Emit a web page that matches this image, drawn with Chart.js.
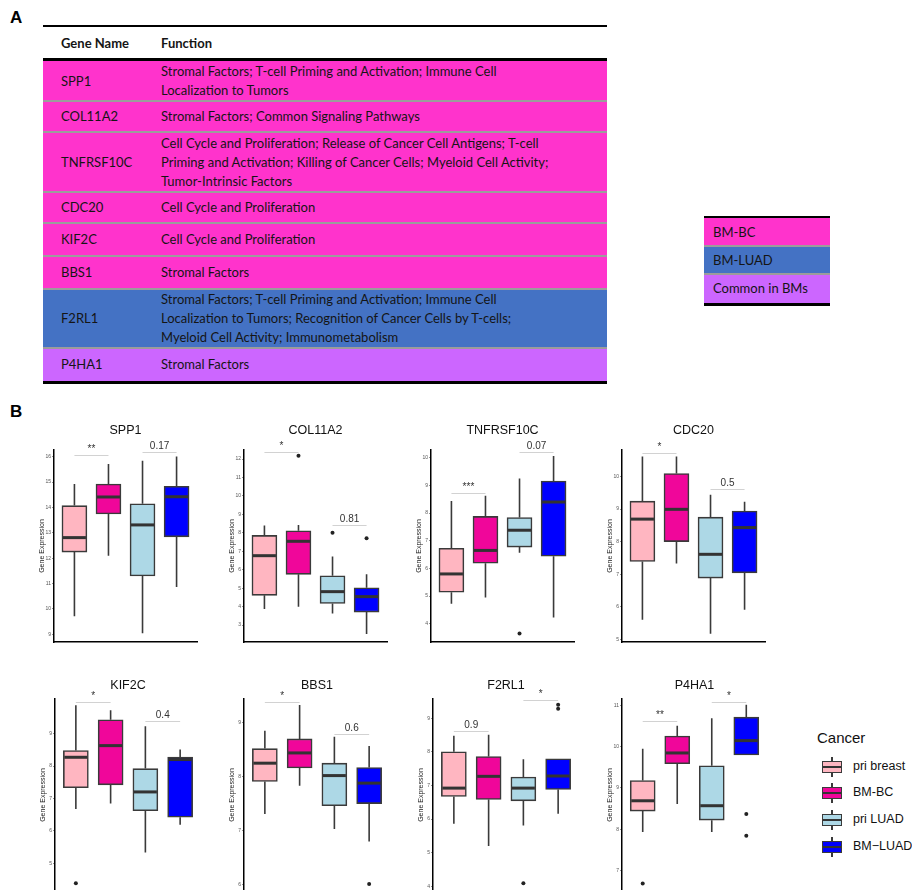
<!DOCTYPE html>
<html>
<head>
<meta charset="utf-8">
<title>Brain metastasis gene signatures</title>
<script src="https://cdn.jsdelivr.net/npm/chart.js@4.4.1/dist/chart.umd.min.js"></script>
<style>
  html, body { margin: 0; padding: 0; background: #fff; }
  body { position: relative; width: 912px; height: 890px; overflow: hidden; font-family: 'Liberation Sans', Arial, sans-serif; }
  .tag { position: absolute; font-weight: bold; font-size: 17px; color: #000; line-height: 20px; }
  .cell { position: absolute; font-family: Lato, 'Open Sans', sans-serif; font-size: 13px; color: #151515; line-height: 19px; white-space: nowrap; }
  .band { position: absolute; box-sizing: border-box; }
  .rule { position: absolute; background: #000; }
  .sep { position: absolute; background: #9c9c9c; }
  canvas { position: absolute; }
  .lg-title { position: absolute; font-size: 15px; color: #111; }
  .lg-label { position: absolute; font-size: 12.5px; color: #111; }
  .lg-whisker { position: absolute; width: 1.5px; background: #3a3a3a; }
  .lg-box { position: absolute; box-sizing: border-box; border: 1.5px solid #3a3a3a; }
  .lg-median { position: absolute; height: 2px; background: #333; }
</style>
</head>
<body>
<div class="tag" style="left:10px;top:8px">A</div>
<div class="tag" style="left:10px;top:402px">B</div>
<script>
// ---------- table content ----------
const genes = ['SPP1', 'COL11A2', 'TNFRSF10C', 'CDC20', 'KIF2C', 'BBS1', 'F2RL1', 'P4HA1'];
const geneFunctions = [
  ['Stromal Factors; T-cell Priming and Activation; Immune Cell', 'Localization to Tumors'],
  ['Stromal Factors; Common Signaling Pathways'],
  ['Cell Cycle and Proliferation; Release of Cancer Cell Antigens; T-cell', 'Priming and Activation; Killing of Cancer Cells; Myeloid Cell Activity;', 'Tumor-Intrinsic Factors'],
  ['Cell Cycle and Proliferation'],
  ['Cell Cycle and Proliferation'],
  ['Stromal Factors'],
  ['Stromal Factors; T-cell Priming and Activation; Immune Cell', 'Localization to Tumors; Recognition of Cancer Cells by T-cells;', 'Myeloid Cell Activity; Immunometabolism'],
  ['Stromal Factors']
];
const geneGroups = ['BM-BC', 'BM-BC', 'BM-BC', 'BM-BC', 'BM-BC', 'BM-BC', 'BM-LUAD', 'Common in BMs'];
const groupNames = ['BM-BC', 'BM-LUAD', 'Common in BMs'];

// ---------- box plot values ----------
const cancerTypes = ['pri breast', 'BM-BC', 'pri LUAD', 'BM\u2212LUAD'];

// each entry: [lower whisker, Q1, median, Q3, upper whisker] per cancer type
const spp1Box = [[9.71, 12.24, 12.81, 14.07, 14.92], [12.10, 13.74, 14.41, 14.92, 15.71], [9.04, 11.30, 13.31, 14.14, 15.84], [10.87, 12.84, 14.42, 14.83, 16.00]];
const col11a2Box = [[3.87, 4.61, 6.76, 7.86, 8.39], [3.99, 5.75, 7.54, 8.11, 8.42], [3.63, 4.17, 4.81, 5.67, 6.72], [2.51, 3.70, 4.54, 5.02, 5.75]];
const tnfrsf10cBox = [[4.72, 5.14, 5.80, 6.73, 8.44], [4.95, 6.19, 6.65, 7.88, 8.63], [6.57, 6.77, 7.38, 7.84, 9.25], [4.23, 6.44, 8.40, 9.16, 10.06]];
const cdc20Box = [[5.60, 7.39, 8.69, 9.24, 10.61], [7.33, 8.00, 8.99, 10.09, 10.61], [5.17, 6.88, 7.61, 8.75, 9.44], [5.91, 7.04, 8.43, 8.94, 9.22]];
const kif2cBox = [[6.67, 7.33, 8.27, 8.48, 9.88], [6.84, 7.42, 8.63, 9.43, 9.72], [5.33, 6.62, 7.20, 7.92, 9.23], [6.19, 6.42, 8.20, 8.28, 8.51]];
const bbs1Box = [[7.31, 7.91, 8.25, 8.52, 8.85], [7.83, 8.16, 8.44, 8.70, 9.33], [7.03, 7.46, 8.02, 8.25, 8.74], [6.80, 7.50, 7.88, 8.17, 8.57]];
const f2rl1Box = [[5.86, 6.67, 6.92, 8.00, 8.48], [5.20, 6.58, 7.27, 7.86, 8.51], [5.81, 6.54, 6.92, 7.25, 7.78], [6.16, 6.88, 7.28, 7.79, 7.79]];
const p4ha1Box = [[7.93, 8.44, 8.69, 9.18, 9.95], [8.61, 9.59, 9.85, 10.26, 10.51], [7.93, 8.22, 8.57, 9.54, 10.69], [9.80, 9.80, 10.15, 10.72, 11.02]];

// outlying samples per cancer type
const spp1Outliers = [[], [], [], []];
const col11a2Outliers = [[], [12.18], [8.00], [7.70]];
const tnfrsf10cOutliers = [[], [], [3.65], []];
const cdc20Outliers = [[], [], [], []];
const kif2cOutliers = [[4.38], [], [], []];
const bbs1Outliers = [[], [], [], [6.01]];
const f2rl1Outliers = [[], [], [4.09], [9.40, 9.28]];
const p4ha1Outliers = [[6.68], [], [], [8.37, 7.84]];

// pairwise comparisons: [label, first group, second group, bracket level]
const spp1Tests = [['**', 1, 2, 16.05], ['0.17', 3, 4, 16.18]];
const col11a2Tests = [['*', 1, 2, 12.38], ['0.81', 3, 4, 8.40]];
const tnfrsf10cTests = [['***', 1, 2, 8.71], ['0.07', 3, 4, 10.20]];
const cdc20Tests = [['*', 1, 2, 10.73], ['0.5', 3, 4, 9.60]];
const kif2cTests = [['*', 1, 2, 9.99], ['0.4', 3, 4, 9.40]];
const bbs1Tests = [['*', 1, 2, 9.38], ['0.6', 3, 4, 8.80]];
const f2rl1Tests = [['0.9', 1, 2, 8.62], ['*', 3, 4, 9.54]];
const p4ha1Tests = [['**', 1, 2, 10.63], ['*', 3, 4, 11.09]];

// y tick labels and axis limits
const spp1Ticks = [9, 10, 11, 12, 13, 14, 15, 16];
const col11a2Ticks = [3, 4, 5, 6, 7, 8, 9, 10, 11, 12];
const tnfrsf10cTicks = [4, 5, 6, 7, 8, 9, 10];
const cdc20Ticks = [5, 6, 7, 8, 9, 10];
const kif2cTicks = [5, 6, 7, 8, 9];
const bbs1Ticks = [6, 7, 8, 9];
const f2rl1Ticks = [4, 5, 6, 7, 8, 9];
const p4ha1Ticks = [7, 8, 9, 10, 11];
const spp1Range = [8.70, 16.26];
const col11a2Range = [2.08, 12.49];
const tnfrsf10cRange = [3.34, 10.28];
const cdc20Range = [4.92, 10.81];
const kif2cRange = [4.14, 10.07];
const bbs1Range = [5.88, 9.44];
const f2rl1Range = [3.86, 9.57];
const p4ha1Range = [6.50, 11.16];

// ---------- styling ----------
const groupColors = { 'BM-BC': '#FF33CC', 'BM-LUAD': '#4472C4', 'Common in BMs': '#CC66FF' };
const cancerColors = ['#FFB6C1', '#F0069A', '#ADD8E6', '#0000FF'];
const inkDark = '#3a3a3a';

// ---------- table ----------
function put(cls, styles, html) {
  const d = document.createElement('div');
  d.className = cls;
  Object.assign(d.style, styles);
  if (html !== undefined) d.innerHTML = html;
  document.body.appendChild(d);
  return d;
}

const tableLeft = 43, tableWidth = 564, geneX = 61, funcX = 161;
const rowEdges = [61, 101, 132, 192, 223, 256, 289, 348, 381];

put('rule', { left: tableLeft + 'px', top: '25px', width: tableWidth + 'px', height: '2px' });
put('cell', { left: geneX + 'px', top: '34px', fontWeight: 'bold' }, 'Gene Name');
put('cell', { left: funcX + 'px', top: '34px', fontWeight: 'bold' }, 'Function');

genes.forEach((g, i) => {
  const top = rowEdges[i], h = rowEdges[i + 1] - top;
  put('band', { left: tableLeft + 'px', top: top + 'px', width: tableWidth + 'px', height: h + 'px', background: groupColors[geneGroups[i]] });
  if (i > 0) put('sep', { left: tableLeft + 'px', top: (top - 1) + 'px', width: tableWidth + 'px', height: '1.5px' });
  const lines = geneFunctions[i];
  const textH = lines.length * 19;
  put('cell', { left: geneX + 'px', top: (top + (h - 19) / 2) + 'px' }, g);
  put('cell', { left: funcX + 'px', top: (top + (h - textH) / 2) + 'px' }, lines.join('<br>'));
});
put('rule', { left: tableLeft + 'px', top: '58px', width: tableWidth + 'px', height: '3px' });
put('rule', { left: tableLeft + 'px', top: '381px', width: tableWidth + 'px', height: '3px' });

// colour key for the table
const keyLeft = 704, keyWidth = 126, keyEdges = [218, 246, 274, 303];
groupNames.forEach((name, i) => {
  const top = keyEdges[i], h = keyEdges[i + 1] - top;
  put('band', { left: keyLeft + 'px', top: top + 'px', width: keyWidth + 'px', height: h + 'px', background: groupColors[name] });
  if (i > 0) put('sep', { left: keyLeft + 'px', top: (top - 1) + 'px', width: keyWidth + 'px', height: '1.5px' });
  put('cell', { left: (keyLeft + 9) + 'px', top: (top + (h - 19) / 2) + 'px' }, name);
});
put('rule', { left: keyLeft + 'px', top: '216px', width: keyWidth + 'px', height: '2px' });
put('rule', { left: keyLeft + 'px', top: '303px', width: keyWidth + 'px', height: '3px' });

// ---------- box plot panels ----------
const panels = [
  { gene: 'SPP1', box: spp1Box, out: spp1Outliers, tests: spp1Tests, ticks: spp1Ticks, range: spp1Range },
  { gene: 'COL11A2', box: col11a2Box, out: col11a2Outliers, tests: col11a2Tests, ticks: col11a2Ticks, range: col11a2Range },
  { gene: 'TNFRSF10C', box: tnfrsf10cBox, out: tnfrsf10cOutliers, tests: tnfrsf10cTests, ticks: tnfrsf10cTicks, range: tnfrsf10cRange },
  { gene: 'CDC20', box: cdc20Box, out: cdc20Outliers, tests: cdc20Tests, ticks: cdc20Ticks, range: cdc20Range },
  { gene: 'KIF2C', box: kif2cBox, out: kif2cOutliers, tests: kif2cTests, ticks: kif2cTicks, range: kif2cRange },
  { gene: 'BBS1', box: bbs1Box, out: bbs1Outliers, tests: bbs1Tests, ticks: bbs1Ticks, range: bbs1Range },
  { gene: 'F2RL1', box: f2rl1Box, out: f2rl1Outliers, tests: f2rl1Tests, ticks: f2rl1Ticks, range: f2rl1Range },
  { gene: 'P4HA1', box: p4ha1Box, out: p4ha1Outliers, tests: p4ha1Tests, ticks: p4ha1Ticks, range: p4ha1Range }
];

// plot-area frames (page pixels) for the 2 x 4 grid
const frames = [
  { left: 54, top: 450, w: 143, h: 192, titleGap: 19 },
  { left: 244, top: 450, w: 143, h: 192, titleGap: 19 },
  { left: 431, top: 450, w: 143, h: 192, titleGap: 19 },
  { left: 622, top: 450, w: 143, h: 192, titleGap: 19 },
  { left: 55, top: 699, w: 146, h: 192, titleGap: 13 },
  { left: 244, top: 699, w: 146, h: 192, titleGap: 13 },
  { left: 433, top: 699, w: 146, h: 192, titleGap: 13 },
  { left: 622, top: 699, w: 145, h: 192, titleGap: 13 }
];

const AXIS_W = 18, PAD_T = 45, PAD_B = 4, PAD_R = 4, BOX_W = 25;

function boxParts(p, f) {
  return {
    id: 'boxParts',
    beforeDatasetsDraw(chart) {
      const { ctx, scales: { x, y } } = chart;
      ctx.save();
      ctx.strokeStyle = inkDark;
      ctx.lineWidth = 1.6;
      p.box.forEach((s, i) => {
        const px = x.getPixelForValue(i + 1);
        ctx.beginPath();
        ctx.moveTo(px, y.getPixelForValue(s[4]));
        ctx.lineTo(px, y.getPixelForValue(s[3]));
        ctx.moveTo(px, y.getPixelForValue(s[1]));
        ctx.lineTo(px, y.getPixelForValue(s[0]));
        ctx.stroke();
      });
      ctx.restore();
    },
    afterDatasetsDraw(chart) {
      const { ctx, scales: { y } } = chart;
      const bars = chart.getDatasetMeta(0).data;
      ctx.save();
      ctx.strokeStyle = '#333';
      ctx.lineWidth = 3;
      bars.forEach((bar, i) => {
        const py = y.getPixelForValue(p.box[i][2]);
        ctx.beginPath();
        ctx.moveTo(bar.x - bar.width / 2 + 1, py);
        ctx.lineTo(bar.x + bar.width / 2 - 1, py);
        ctx.stroke();
      });
      ctx.restore();
    },
    afterDraw(chart) {
      const { ctx, chartArea, scales: { x, y } } = chart;
      ctx.save();
      // comparison brackets
      p.tests.forEach(([label, a, b, level]) => {
        const x1 = x.getPixelForValue(a), x2 = x.getPixelForValue(b);
        const py = Math.round(y.getPixelForValue(level)) + 0.5;
        ctx.strokeStyle = '#d2d2d2';
        ctx.lineWidth = 1;
        ctx.beginPath();
        ctx.moveTo(x1, py);
        ctx.lineTo(x2, py);
        ctx.stroke();
        ctx.fillStyle = '#333';
        ctx.font = '10px "Liberation Sans", Arial, sans-serif';
        ctx.textAlign = 'center';
        ctx.textBaseline = 'bottom';
        ctx.fillText(label, (x1 + x2) / 2, py - 1);
      });
      // panel title
      ctx.fillStyle = '#111';
      ctx.font = '12.5px "Liberation Sans", Arial, sans-serif';
      ctx.textAlign = 'center';
      ctx.textBaseline = 'middle';
      ctx.fillText(p.gene, (chartArea.left + chartArea.right) / 2, chartArea.top - f.titleGap);
      ctx.restore();
    }
  };
}

function drawPanel(p, f) {
  const cv = document.createElement('canvas');
  cv.width = AXIS_W + f.w + PAD_R;
  cv.height = PAD_T + f.h + PAD_B;
  cv.style.left = (f.left - AXIS_W) + 'px';
  cv.style.top = (f.top - PAD_T) + 'px';
  document.body.appendChild(cv);

  new Chart(cv, {
    type: 'bar',
    data: {
      datasets: [
        {
          type: 'bar',
          label: p.gene,
          data: p.box.map((s, i) => ({ x: i + 1, y: [s[1], s[3]] })),
          backgroundColor: cancerColors,
          borderColor: inkDark,
          borderWidth: 1.6,
          borderSkipped: false,
          barThickness: BOX_W,
          order: 2
        },
        {
          type: 'scatter',
          label: p.gene + ' outliers',
          data: p.out.flatMap((vals, i) => vals.map(v => ({ x: i + 1, y: v }))),
          pointRadius: 2,
          pointBackgroundColor: '#222',
          pointBorderWidth: 0,
          order: 1
        }
      ]
    },
    options: {
      responsive: false,
      animation: false,
      devicePixelRatio: 1,
      layout: { padding: { left: 0, top: PAD_T, right: PAD_R, bottom: PAD_B } },
      plugins: { legend: { display: false }, tooltip: { enabled: false }, title: { display: false } },
      scales: {
        x: {
          type: 'linear', min: 0.4, max: 4.6, offset: false,
          afterBuildTicks(s) { s.ticks = cancerTypes.map((_, i) => ({ value: i + 1 })); },
          ticks: { display: false },
          grid: { display: false },
          border: { display: true, color: '#000', width: 1.5 },
          afterFit(s) { s.height = 0; }
        },
        y: {
          type: 'linear', min: p.range[0], max: p.range[1],
          afterBuildTicks(s) { s.ticks = p.ticks.map(v => ({ value: v })); },
          ticks: { font: { size: 5, family: 'Liberation Sans' }, color: '#555', padding: 1 },
          grid: { drawOnChartArea: false, drawTicks: true, tickLength: 2, color: '#777', lineWidth: 0.8 },
          border: { display: true, color: '#000', width: 1.5 },
          title: { display: true, text: 'Gene Expression', font: { size: 7, family: 'Liberation Sans' }, color: '#222', padding: { top: 2, bottom: 0 } },
          afterFit(s) { s.width = AXIS_W; }
        }
      }
    },
    plugins: [boxParts(p, f)]
  });
}

panels.forEach((p, i) => drawPanel(p, frames[i]));

// ---------- legend for cancer types ----------
put('lg-title', { left: '817px', top: '729px' }, 'Cancer');
const legendRows = [767, 793, 820, 847];
cancerTypes.forEach((name, i) => {
  const cy = legendRows[i];
  put('lg-whisker', { left: '831px', top: (cy - 10) + 'px', height: '20px' });
  put('lg-box', { left: '822px', top: (cy - 6) + 'px', width: '20px', height: '12px', background: cancerColors[i] });
  put('lg-median', { left: '823px', top: (cy - 1) + 'px', width: '18px' });
  put('lg-label', { left: '853px', top: (cy - 8) + 'px' }, name);
});
</script>
</body>
</html>
